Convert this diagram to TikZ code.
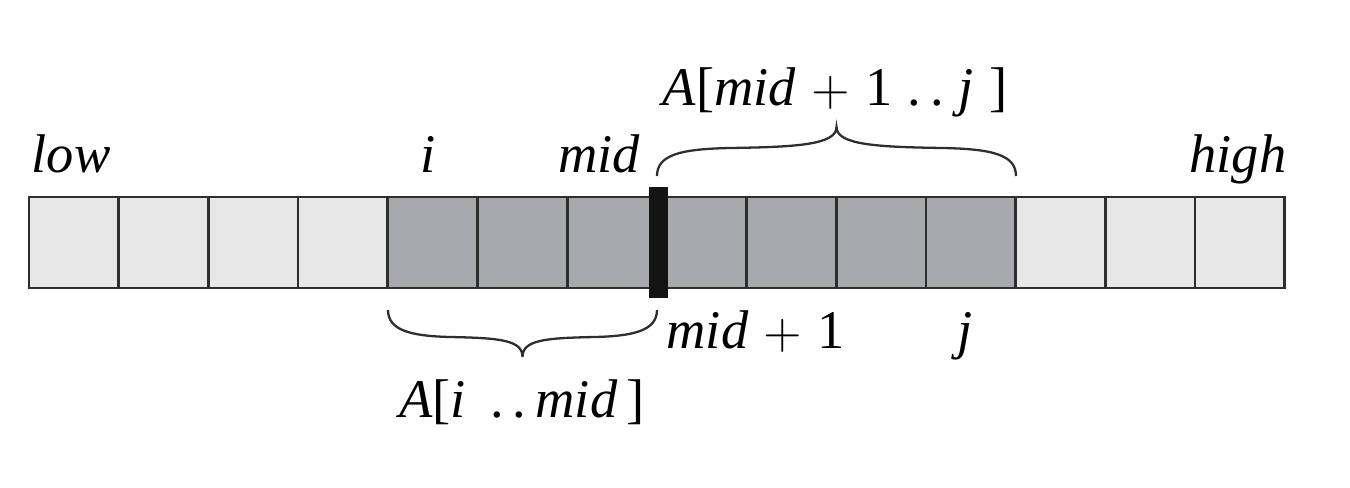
\documentclass[tikz,border=0pt]{standalone}
\usepackage{fontspec}
\setmainfont{Liberation Serif}
\usepackage{tikz}
\usepackage{xcolor}
\definecolor{lightcell}{HTML}{E7E7E8}
\definecolor{darkcell}{HTML}{A8A9AD}
\definecolor{cellline}{HTML}{2E2E2E}

\begin{document}
\begin{tikzpicture}[
  cell/.style={rectangle, draw=cellline, line width=0.75pt, minimum width=0.897cm, minimum height=0.91cm, inner sep=0pt},
  lbl/.style={anchor=base, inner sep=0pt, font=\fontsize{15.5}{17}\selectfont},
  bracepath/.style={line width=0.65pt, cellline}
]
\useasboundingbox (0,0) rectangle (13.5,4.87);

% the array A[low..high]
\foreach \k in {0,...,13} {
  \ifnum\k<4 \def\cellfill{lightcell}\else\ifnum\k>10 \def\cellfill{lightcell}\else\def\cellfill{darkcell}\fi\fi
  \node[cell, fill=\cellfill] (c\k) at ({0.29+0.897*\k+0.4485}, 2.445) {};
}

% split point
\node[rectangle, fill=black!92, minimum width=0.19cm, minimum height=1.11cm, inner sep=0pt] (bar) at (c6.east) {};

% index labels
\node[lbl] (low) at (0.71, 3.15) {\textit{low}};
\node[lbl] (ilbl) at (4.28, 3.15) {\textit{i}};
\node[lbl] (midlbl) at (5.99, 3.15) {\textit{mid}};
\node[lbl] (high) at (12.38, 3.15) {\textit{high}};
\node[lbl] (midplus) at (7.555, 1.39) {\textit{mid}\;$+$\;1};
\node[lbl] (jlbl) at (9.65, 1.39) {\textit{j}};

% braces
\draw[bracepath] (6.57,3.11) .. controls (6.57,3.32) and (6.8,3.38) .. (7.3,3.39)
  .. controls (7.95,3.40) and (8.365,3.42) .. (8.365,3.60)
  .. controls (8.365,3.42) and (8.78,3.40) .. (9.43,3.39)
  .. controls (9.93,3.38) and (10.16,3.32) .. (10.16,3.11);
\draw[bracepath] (3.88,1.77) .. controls (3.88,1.57) and (4.1,1.51) .. (4.5,1.50)
  .. controls (5.0,1.49) and (5.225,1.47) .. (5.225,1.30)
  .. controls (5.225,1.47) and (5.45,1.49) .. (5.95,1.50)
  .. controls (6.35,1.51) and (6.57,1.57) .. (6.57,1.77);

% subarray labels
\node[lbl] (left) at (5.22, 0.70) {\textit{A}[\textit{i}\;\,.\,.\,\textit{mid}\,]};
\node[lbl] (right) at (8.35, 3.82) {\textit{A}[\textit{mid}\;$+$\;1\;.\,.\;\textit{j}\;]};
\end{tikzpicture}
\end{document}
